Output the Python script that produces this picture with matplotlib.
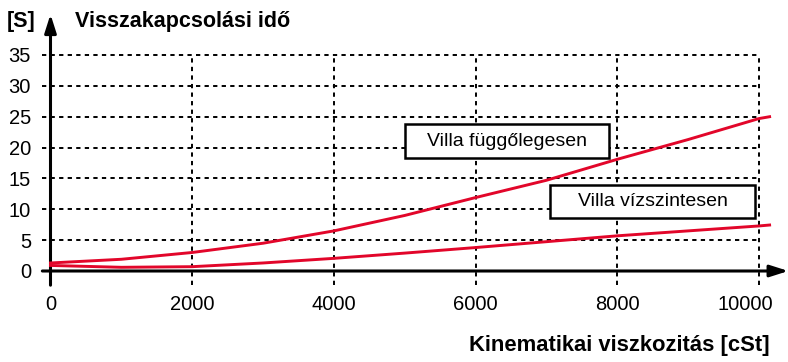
import numpy as np
import matplotlib.pyplot as plt
from matplotlib.patches import Rectangle
from matplotlib.transforms import ScaledTranslation

plt.rcParams['font.family'] = ['Liberation Sans', 'DejaVu Sans']

# kinematic viscosity [cSt] and switch-back time [s]
visc = [0, 1000, 2000, 3000, 4000, 5000, 6000, 7000, 8000, 9000, 10000, 10150]
t_vertical = [1.3, 1.9, 3.0, 4.5, 6.5, 9.0, 11.9, 14.7, 18.1, 21.3, 24.7, 25.0]
t_horizontal = [0.9, 0.6, 0.7, 1.3, 2.05, 2.9, 3.8, 4.75, 5.7, 6.5, 7.3, 7.45]

xticks = [0, 2000, 4000, 6000, 8000, 10000]
yticks = [0, 5, 10, 15, 20, 25, 30, 35]

W, H = 788, 362
fig = plt.figure(figsize=(W / 100, H / 100), dpi=100)
# axes placed in pixels: origin at (50.5, 271), 10150 cSt -> 719 px, 35 s -> 216 px
ax = fig.add_axes([50.5 / W, (H - 271) / H, 719.1 / W, 216 / H])
ax.set_xlim(0, 10150)
ax.set_ylim(0, 35)
for s in ax.spines.values():
    s.set_visible(False)

red = '#e2062a'
dots = (0, (2.2, 2.2))

# dotted grid
for y in yticks[1:]:
    ax.plot([-115, 10000], [y, y], color='black', lw=1.4, ls=dots, clip_on=False, zorder=1)
for x in xticks[1:]:
    ax.plot([x, x], [-2.3, 35], color='black', lw=1.4, ls=dots, clip_on=False, zorder=1)

# axes with arrows
ax.annotate('', xy=(0, 41.6), xytext=(0, -2.3), annotation_clip=False,
            arrowprops=dict(arrowstyle='-|>,head_length=1.1,head_width=0.35', lw=2.2,
                            color='black', shrinkA=0, shrinkB=0))
ax.annotate('', xy=(10415, 0), xytext=(-115, 0), annotation_clip=False,
            arrowprops=dict(arrowstyle='-|>,head_length=1.1,head_width=0.35', lw=2.2,
                            color='black', shrinkA=0, shrinkB=0))

ax.plot(visc, t_vertical, color=red, lw=2.1, zorder=3, clip_on=False)
ax.plot(visc, t_horizontal, color=red, lw=2.1, zorder=3, clip_on=False)

ax.set_xticks(xticks)
ax.set_yticks(yticks)
ax.tick_params(length=0, labelsize=14.5)
ax.tick_params(axis='y', pad=14)
ax.tick_params(axis='x', pad=17)
ax.set_xticklabels(['0', '2000', '4000', '6000', '8000', '10000'])
# last label sits a bit left of its grid line
last = ax.get_xticklabels()[-1]
last.set_transform(last.get_transform() + ScaledTranslation(-14 / 100, 0, fig.dpi_scale_trans))

# label boxes
boxes = [(4997, 18.3, 2880, 5.5, 'Villa függőlegesen'),
         (7050, 8.6, 2895, 5.35, 'Villa vízszintesen')]
for bx, by, bw, bh, label in boxes:
    ax.add_patch(Rectangle((bx, by), bw, bh, facecolor='white', edgecolor='black',
                           lw=1.8, zorder=4))
    ax.text(bx + bw / 2, by + bh / 2, label, ha='center', va='center',
            fontsize=14, zorder=5)

fig.text(7 / W, 1 - 21 / H, '[S]', fontsize=15.5, fontweight='bold', va='center', ha='left')
fig.text(75 / W, 1 - 21 / H, 'Visszakapcsolási idő', fontsize=15.5, fontweight='bold',
         va='center', ha='left')
fig.text(770 / W, 1 - 345 / H, 'Kinematikai viszkozitás [cSt]', fontsize=15.8,
         fontweight='bold', va='center', ha='right')

fig.savefig('out.png', dpi=100)
